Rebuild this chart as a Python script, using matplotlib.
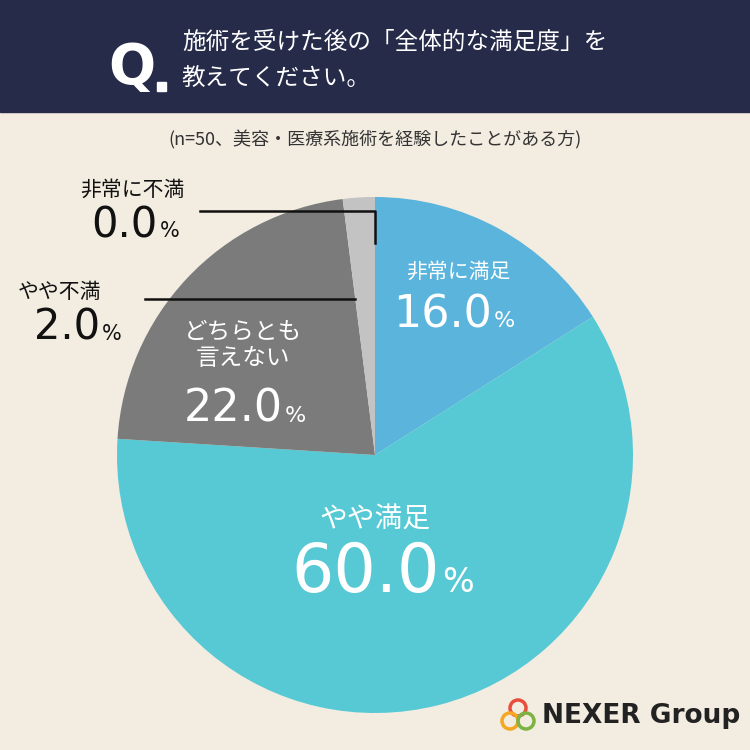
import matplotlib
matplotlib.use("Agg")
import matplotlib.pyplot as plt
from matplotlib.patches import Rectangle, Circle

plt.rcParams['font.family'] = ['Noto Sans CJK JP', 'DejaVu Sans']

categories = ["非常に満足", "やや満足", "どちらとも\n言えない", "やや不満", "非常に不満"]
values = [16.0, 60.0, 22.0, 2.0, 0.0]
colors = ["#5ab4dc", "#56c9d5", "#7b7b7b", "#c3c3c3", "#e0e0e0"]

W = H = 750
fig = plt.figure(figsize=(7.5, 7.5), dpi=100)
fig.patch.set_facecolor("#f2ece1")

cx, cy, r = 375, 455, 258
ax = fig.add_axes([(cx - r) / W, (H - cy - r) / H, 2 * r / W, 2 * r / H])
ax.pie(values, colors=colors, startangle=90, counterclock=False, radius=1,
       wedgeprops=dict(linewidth=0))
ax.set_xlim(-1, 1); ax.set_ylim(-1, 1); ax.set_aspect("auto"); ax.axis("off")

bg = fig.add_axes([0, 0, 1, 1]); bg.set_xlim(0, W); bg.set_ylim(H, 0); bg.axis("off")
bg.patch.set_alpha(0)
bg.add_patch(Rectangle((0, 0), W, 112, color="#272b4a"))
bg.text(108, 68, "Q", color="white", fontsize=40, fontweight="bold", ha="left", va="center", family="DejaVu Sans")
bg.add_patch(Rectangle((157, 82), 9, 9, color="white"))
bg.text(182, 42, "施術を受けた後の「全体的な満足度」を", color="white", fontsize=17, va="center")
bg.text(182, 78, "教えてください。", color="white", fontsize=17, va="center")
bg.text(375, 140, "(n=50、美容・医療系施術を経験したことがある方)", color="#333333", fontsize=13, ha="center", va="center")

def pct(x, y, v, size, color):
    s = f"{v:.1f}"
    bg.text(x, y, s, fontsize=size, color=color, ha="right", va="baseline", family="DejaVu Sans")
    bg.text(x + 2, y, "%", fontsize=size * 0.5, color=color, ha="left", va="baseline", family="DejaVu Sans")

bg.text(458, 272, categories[0], fontsize=15, color="white", ha="center", va="center")
pct(492, 327, values[0], 32, "white")
bg.text(375, 520, categories[1], fontsize=20, color="white", ha="center", va="center")
pct(440, 592, values[1], 48, "white")
bg.text(243, 345, categories[2], fontsize=17, color="white", ha="center", va="center", linespacing=1.2)
pct(283, 422, values[2], 32, "white")
bg.text(18, 292, categories[3], fontsize=15, color="#111111", ha="left", va="center")
pct(100, 340, values[3], 30, "#111111")
bg.plot([145, 355], [299, 299], color="#111111", lw=1.8)
bg.text(80, 190, categories[4], fontsize=15, color="#111111", ha="left", va="center")
pct(158, 237, values[4], 30, "#111111")
bg.plot([200, 375, 375], [211, 211, 243], color="#111111", lw=1.8)

for (dx, dy, c) in [(0, -8, "#e94e3c"), (-8, 5, "#f5a623"), (8, 5, "#7cb342")]:
    bg.add_patch(Circle((518 + dx, 716 + dy), 8, fill=False, ec=c, lw=2.5))
bg.text(542, 716, "NEXER Group", fontsize=19, fontweight="bold", color="#222222", va="center", family="DejaVu Sans")

fig.savefig("out.png", dpi=100, facecolor=fig.get_facecolor())
